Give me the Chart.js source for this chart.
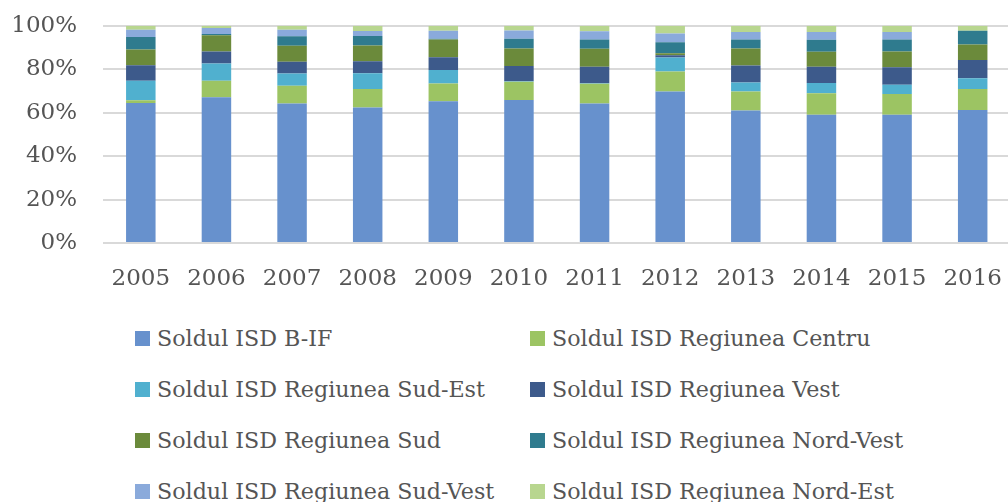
<!DOCTYPE html>
<html>
<head>
<meta charset="utf-8">
<script src="https://cdn.jsdelivr.net/npm/chart.js@4/dist/chart.umd.min.js"></script>
<style>
  html, body { margin: 0; padding: 0; background: #fff; overflow: hidden; }
  body { width: 1008px; height: 502px; position: relative; }
  #wrap { position: absolute; left: 0; top: -14px; width: 1016px; height: 314px; }
  #legend { position: absolute; left: 135px; top: 325px; width: 900px;
    font-family: "DejaVu Serif", serif; font-size: 22.2px; color: #555555; }
  #legend .item { position: absolute; white-space: nowrap; display: flex; align-items: center; }
  #legend .box { width: 15px; height: 15px; margin-right: 7px; }
</style>
</head>
<body>
<div id="wrap"><canvas id="chart" width="1016" height="314"></canvas></div>
<div id="legend"></div>
<script>
const years = ['2005', '2006', '2007', '2008', '2009', '2010', '2011', '2012', '2013', '2014', '2015', '2016'];

const seriesNames = [
  'Soldul ISD B-IF',
  'Soldul ISD Regiunea Centru',
  'Soldul ISD Regiunea Sud-Est',
  'Soldul ISD Regiunea Vest',
  'Soldul ISD Regiunea Sud',
  'Soldul ISD Regiunea Nord-Vest',
  'Soldul ISD Regiunea Sud-Vest',
  'Soldul ISD Regiunea Nord-Est'
];

// shares in % per year
const bif      = [64.5, 67.1, 64.2, 62.4, 65.3, 65.8, 64.2, 69.7, 61.0, 59.0, 59.0, 61.2];
const centru   = [1.2, 7.6, 8.2, 8.5, 8.1, 8.4, 9.1, 9.3, 8.8, 10.0, 9.6, 9.7];
const sudEst   = [9.0, 8.0, 5.6, 7.2, 6.2, 0.3, 0.3, 6.4, 4.1, 4.7, 4.3, 4.9];
const vest     = [7.1, 5.5, 5.5, 5.6, 5.9, 7.0, 7.6, 1.0, 7.8, 7.4, 8.0, 8.4];
const sud      = [7.3, 7.5, 7.3, 7.2, 8.2, 8.1, 8.2, 1.0, 7.9, 7.0, 7.3, 7.2];
const nordVest = [5.8, 0.5, 4.4, 4.4, 0.3, 4.4, 4.3, 5.0, 4.1, 5.5, 5.5, 6.3];
const sudVest  = [3.3, 2.8, 3.0, 2.3, 3.7, 3.8, 3.8, 4.1, 3.5, 3.5, 3.5, 0.0];
const nordEst  = [1.8, 1.0, 1.8, 2.4, 2.3, 2.2, 2.5, 3.5, 2.8, 2.9, 2.8, 2.3];

const yTicks = [0, 20, 40, 60, 80, 100];

const seriesValues = [bif, centru, sudEst, vest, sud, nordVest, sudVest, nordEst];
const colors = ['#6791cd', '#9cc463', '#50b0cf', '#3d5a8b', '#6b8a3b', '#2f7b8e', '#8aaadb', '#b8d68f'];

const font = { family: '"DejaVu Serif", serif', size: 23 };

const chart = new Chart(document.getElementById('chart'), {
  type: 'bar',
  data: {
    labels: years,
    datasets: seriesValues.map((vals, i) => ({
      label: seriesNames[i],
      data: vals,
      backgroundColor: colors[i],
      borderWidth: 0,
      barPercentage: 0.39,
      categoryPercentage: 1
    }))
  },
  options: {
    responsive: false,
    animation: false,
    layout: { padding: { top: 10, right: 1, left: 0, bottom: 0 } },
    plugins: { legend: { display: false }, tooltip: { enabled: false } },
    scales: {
      x: {
        stacked: true,
        grid: { display: false },
        border: { display: false },
        ticks: { font: font, color: '#555555', padding: 14, maxRotation: 0 },
        afterFit: (s) => { s.height = 57; }
      },
      y: {
        stacked: true,
        min: 0,
        max: 100,
        afterBuildTicks: (s) => { s.ticks = yTicks.map(v => ({ value: v })); },
        grid: { color: '#d9d9d9', lineWidth: 2, drawTicks: false },
        border: { display: false },
        ticks: { font: font, color: '#555555', padding: 26, callback: (v) => v + '%' },
        afterFit: (s) => { s.width = 103; }
      }
    }
  }
});

// legend in two columns, built from the datasets
const legend = document.getElementById('legend');
chart.data.datasets.forEach((ds, i) => {
  const item = document.createElement('div');
  item.className = 'item';
  item.style.left = (i % 2 === 0 ? 0 : 395) + 'px';
  item.style.top = (Math.floor(i / 2) * 51) + 'px';
  item.innerHTML = '<span class="box" style="background:' + ds.backgroundColor + '"></span>' + ds.label;
  legend.appendChild(item);
});
</script>
</body>
</html>
